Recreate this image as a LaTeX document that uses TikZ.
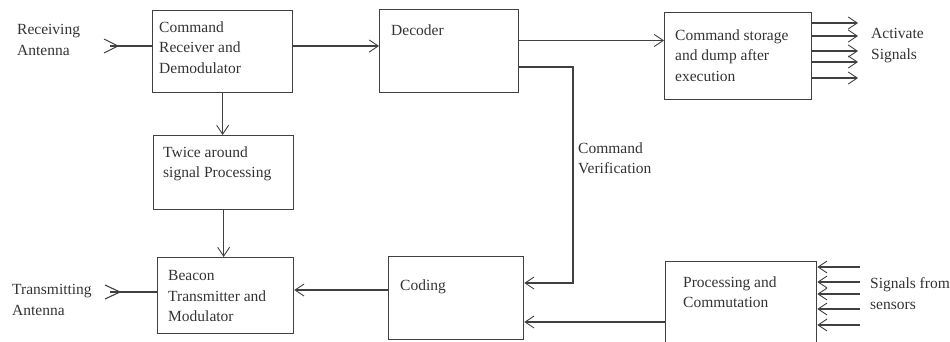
\documentclass[tikz,border=0pt]{standalone}
\usepackage{fontspec}
\setmainfont{Liberation Serif}
\usetikzlibrary{arrows.meta}
\definecolor{ink}{HTML}{404040}
\definecolor{txt}{HTML}{333333}
\begin{document}
\begin{tikzpicture}[x=1pt,y=1pt,
  box/.style={draw=ink, line width=1.25pt, inner sep=0pt, anchor=north west},
  lbl/.style={anchor=north west, inner sep=0pt, align=left, text=txt,
              font=\fontsize{15.5}{20.5}\selectfont},
  wire/.style={draw=ink, line width=1.25pt},
  arr/.style={wire, -{Straight Barb[length=9pt,width=12pt,line width=0.9pt]}},
  ant/.style={draw=ink, line width=1.1pt}]
\useasboundingbox (0,0) rectangle (950,341);
\clip (0,0) rectangle (950,341);
% boxes
\node[box, minimum width=140pt, minimum height=82pt] (rx) at (152,331) {};
\node[box, minimum width=140pt, minimum height=74pt] (tw) at (153,206) {};
\node[box, minimum width=136pt, minimum height=76pt] (bc) at (157,84) {};
\node[box, minimum width=139pt, minimum height=83pt] (dec) at (379,332) {};
\node[box, minimum width=135pt, minimum height=83pt] (cod) at (388,85) {};
\node[box, minimum width=147pt, minimum height=87pt] (cs) at (664,329) {};
\node[box, minimum width=151pt, minimum height=90pt] (pc) at (665,80) {};
% texts
\node[lbl] (t1) at (17,316.5) {Receiving\\Antenna};
\node[lbl] (t2) at (159,319.5) {Command\\Receiver and\\Demodulator};
\node[lbl] (t3) at (391,316.5) {Decoder};
\node[lbl] (t4) at (675,311.5) {Command storage\\and dump after\\execution};
\node[lbl] (t5) at (871,312.5) {Activate\\Signals};
\node[lbl] (t6) at (163,194.5) {Twice around\\signal Processing};
\node[lbl] (t7) at (578,198.5) {Command\\Verification};
\node[lbl] (t8) at (12,56.5) {Transmitting\\Antenna};
\node[lbl] (t9) at (168,70.5) {Beacon\\Transmitter and\\Modulator};
\node[lbl] (t10) at (400,61.5) {Coding};
\node[lbl] (t11) at (683,64.5) {Processing and\\Commutation};
\node[lbl] (t12) at (870,63.5) {Signals from\\sensors};
% level coordinates
\coordinate (ra) at (118,295);
\coordinate (ta) at (120,49);
\coordinate (yd) at (0,300.5);
\coordinate (v1) at (573,274);
\coordinate (v2) at (573,58);
\coordinate (yp) at (0,19);
\coordinate (yc) at (0,51);
% antennas
\draw[ant] ([shift={(-14,7)}]ra) -- (ra) -- ([shift={(-14,-7)}]ra);
\draw[wire] ([xshift=-8]ra) -- (ra -| rx.west);
\draw[ant] ([shift={(-15,7)}]ta) -- (ta) -- ([shift={(-15,-7)}]ta);
\draw[wire] ([xshift=-10]ta) -- (ta -| bc.west);
% main connectors
\draw[arr] (ra -| rx.east) -- (ra -| dec.west);
\draw[arr] (yd -| dec.east) -- (yd -| cs.west);
\draw[arr] (rx.south) -- (rx.south |- tw.north);
\draw[arr] (tw.south) -- (tw.south |- bc.north);
\draw[arr] (v1 -| dec.east) -- (v1) -- (v2) -- (v2 -| cod.east);
\draw[arr] (yp -| pc.west) -- (yp -| cod.east);
\draw[arr] (yc -| cod.west) -- (yc -| bc.east);
% activate signals
\foreach \yy [count=\i] in {318,305,290,279,263}{
  \coordinate (act\i) at (858,\yy);
  \draw[arr] (act\i -| cs.east) -- (act\i);
}
% sensor signals
\foreach \yy [count=\i] in {74,59,47,32,16}{
  \coordinate (sen\i) at (860,\yy);
  \draw[arr] (sen\i) -- (sen\i -| pc.east);
}
\end{tikzpicture}
\end{document}
